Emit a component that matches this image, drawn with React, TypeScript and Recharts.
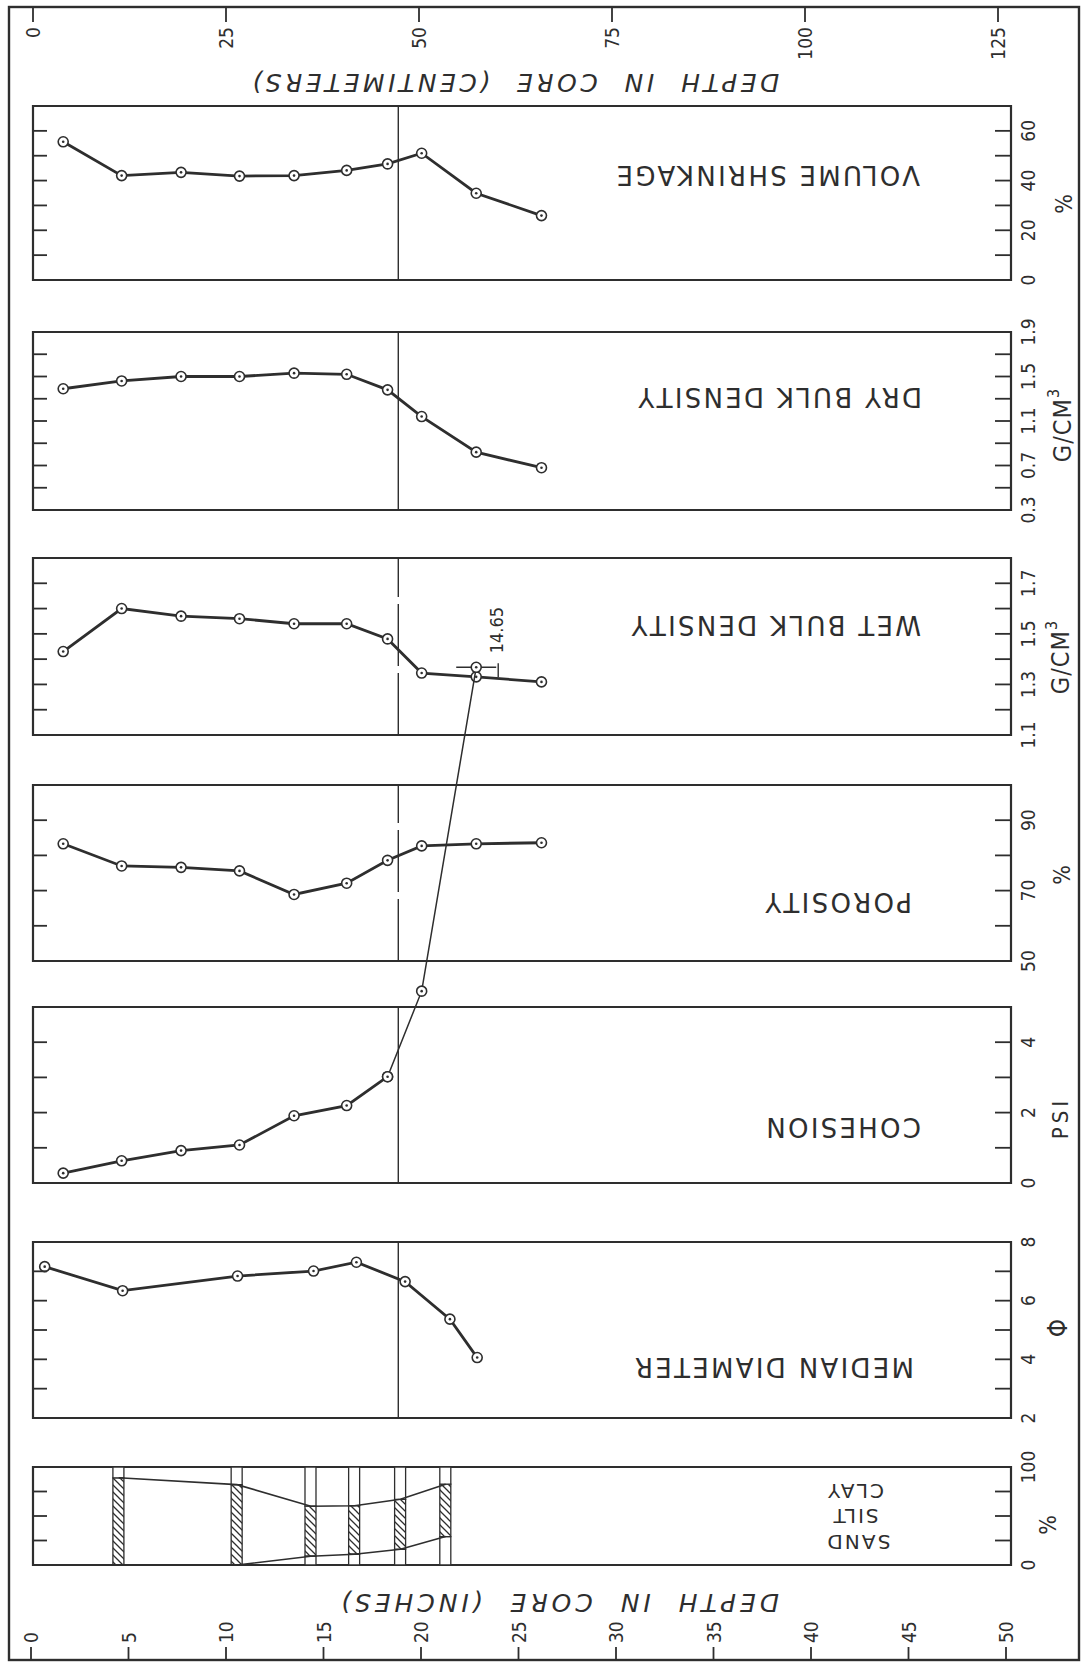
import React from 'react';
import { ComposedChart, LineChart, Line, Bar, XAxis, YAxis, ReferenceArea, ReferenceLine } from 'recharts';

// ---------------- DATA ----------------
// depth (inches) of the core samples
const SAMPLE_DEPTH_IN = [1.55, 4.55, 7.6, 10.6, 13.4, 16.1, 18.2, 19.95, 22.75, 26.1];
const VOLUME_SHRINKAGE_PCT = [55.6, 42.0, 43.3, 41.8, 42.0, 44.1, 46.7, 51.0, 34.9, 25.9];
const DRY_BULK_DENSITY = [1.39, 1.46, 1.5, 1.5, 1.53, 1.52, 1.38, 1.14, 0.82, 0.68];
const WET_BULK_DENSITY = [1.43, 1.6, 1.57, 1.56, 1.54, 1.54, 1.48, 1.345, 1.33, 1.31];
const POROSITY_PCT = [83.3, 77.0, 76.6, 75.6, 68.9, 72.1, 78.6, 82.7, 83.3, 83.6];
const COHESION_PSI = [0.28, 0.63, 0.92, 1.08, 1.91, 2.2, 3.02, 5.45, 14.65];
const COHESION_OFFSCALE_FROM = 6; // index where the thin off-scale continuation starts

const MEDIAN_DEPTH_IN = [0.6, 4.6, 10.5, 14.4, 16.6, 19.1, 21.4, 22.8];
const MEDIAN_DIAMETER_PHI = [7.16, 6.34, 6.84, 7.01, 7.31, 6.65, 5.37, 4.06];

const GRAIN_DEPTH_IN = [4.4, 10.47, 14.26, 16.5, 18.86, 21.18];
const SAND_PCT = [0, 0, 9, 11, 16, 29];
const SILT_PCT = [89, 82, 51, 49.5, 51, 53.5];

const CORE_BREAK_DEPTH_IN = 18.75;

const INCH_TICKS = [0, 5, 10, 15, 20, 25, 30, 35, 40, 45, 50];
const CM_TICKS = [0, 25, 50, 75, 100, 125];

// ---------------- LAYOUT / STYLE ----------------
const W = 1081;
const H = 1662;
const X_LEFT = 33;
const X_RIGHT = 1011;
const DEPTH_MAX = 50.2;
const WL = 12;
const WR = 60;
const INK = '#2e2e2e';
const NUM_FONT = "'DejaVu Sans Condensed', 'DejaVu Sans', sans-serif";
const TITLE_FONT = "'DejaVu Sans', sans-serif";

type PanelSpec = {
  top: number;
  bottom: number;
  domain: [number, number];
  chartTop?: number;
  chartDomain?: [number, number];
  marks: number[];
  labels: number[];
  dashed?: boolean;
  breakLine?: boolean;
};

const COHESION_PX_PER_PSI = 176 / 5;
const P_VOLUME: PanelSpec = { top: 106, bottom: 280, domain: [0, 70], marks: [10, 20, 30, 40, 50, 60], labels: [0, 20, 40, 60], breakLine: true };
const P_DRY: PanelSpec = { top: 332, bottom: 510, domain: [0.3, 1.9], marks: [0.5, 0.7, 0.9, 1.1, 1.3, 1.5, 1.7], labels: [0.3, 0.7, 1.1, 1.5, 1.9], breakLine: true };
const P_WET: PanelSpec = { top: 558, bottom: 735, domain: [1.1, 1.8], marks: [1.2, 1.3, 1.4, 1.5, 1.6, 1.7], labels: [1.1, 1.3, 1.5, 1.7], dashed: true, breakLine: true };
const P_POROSITY: PanelSpec = { top: 785, bottom: 961, domain: [50, 100], marks: [60, 70, 80, 90], labels: [50, 70, 90], dashed: true, breakLine: true };
const P_COHESION: PanelSpec = { top: 1007, bottom: 1183, domain: [0, 5], chartTop: 1183 - 19 * COHESION_PX_PER_PSI, chartDomain: [0, 19], marks: [1, 2, 3, 4], labels: [0, 2, 4], breakLine: true };
const P_MEDIAN: PanelSpec = { top: 1242, bottom: 1418, domain: [2, 8], marks: [3, 4, 5, 6, 7], labels: [2, 4, 6, 8], breakLine: true };
const P_GRAIN: PanelSpec = { top: 1467, bottom: 1565, domain: [0, 100], marks: [25, 50, 75], labels: [0, 100] };

// ---------------- DERIVED TABLES ----------------
const volumeData = SAMPLE_DEPTH_IN.map((depth, i) => ({ depth, v: VOLUME_SHRINKAGE_PCT[i] }));
const dryData = SAMPLE_DEPTH_IN.map((depth, i) => ({ depth, v: DRY_BULK_DENSITY[i] }));
const wetData = SAMPLE_DEPTH_IN.map((depth, i) => ({ depth, v: WET_BULK_DENSITY[i] }));
const porosityData = SAMPLE_DEPTH_IN.map((depth, i) => ({ depth, v: POROSITY_PCT[i] }));
const cohesionData = COHESION_PSI.map((v, i) => ({
  depth: SAMPLE_DEPTH_IN[i],
  main: i <= COHESION_OFFSCALE_FROM ? v : null,
  ext: i >= COHESION_OFFSCALE_FROM ? v : null,
}));
const medianData = MEDIAN_DEPTH_IN.map((depth, i) => ({ depth, v: MEDIAN_DIAMETER_PHI[i] }));
const grainData = GRAIN_DEPTH_IN.map((depth, i) => ({
  depth,
  sand: SAND_PCT[i],
  silt: SILT_PCT[i],
  clay: 100 - SAND_PCT[i] - SILT_PCT[i],
  sandSilt: SAND_PCT[i] + SILT_PCT[i],
}));

// ---------------- MARKS ----------------
function RingDot(props: any) {
  const { cx, cy } = props;
  if (cx == null || cy == null || Number.isNaN(cy)) return <g />;
  return (
    <g>
      <circle cx={cx} cy={cy} r={5} fill="#fff" stroke={INK} strokeWidth={1.6} />
      <circle cx={cx} cy={cy} r={1.3} fill={INK} />
    </g>
  );
}

function CohesionExtDot(props: any) {
  const { cx, cy, index, payload } = props;
  if (cx == null || cy == null || Number.isNaN(cy)) return <g />;
  if (index !== COHESION_PSI.length - 1) return <RingDot cx={cx} cy={cy} />;
  const tx = cx + 20;
  const ty = cy - 14;
  return (
    <g>
      <line x1={cx - 20} x2={cx + 20} y1={cy} y2={cy} stroke={INK} strokeWidth={1.6} />
      <line x1={cx + 22} x2={cx + 22} y1={cy - 4} y2={cy + 10} stroke={INK} strokeWidth={1.4} />
      <RingDot cx={cx} cy={cy} />
      <text x={tx} y={ty} transform={`rotate(-90 ${tx} ${ty})`} textAnchor="start" dominantBaseline="central"
        fontFamily={NUM_FONT} fontSize={18} fill={INK}>{String(payload.ext)}</text>
    </g>
  );
}

function LeftMark(props: any) {
  const { x, y } = props;
  return <line x1={x} x2={x + 14} y1={y} y2={y} stroke={INK} strokeWidth={1.8} />;
}

function RightMark(props: any) {
  const { x, y, payload, spec } = props;
  const v = payload.value;
  const hasMark = spec.marks.includes(v);
  const hasLabel = spec.labels.includes(v);
  const lx = x + 17;
  return (
    <g>
      {hasMark && <line x1={x - 16} x2={x} y1={y} y2={y} stroke={INK} strokeWidth={1.8} />}
      {hasLabel && (
        <text x={lx} y={y} transform={`rotate(-90 ${lx} ${y})`} textAnchor="middle" dominantBaseline="central"
          fontFamily={NUM_FONT} fontSize={19} fill={INK}>{String(v)}</text>
      )}
    </g>
  );
}

function Panel({ spec, data, children }: { spec: PanelSpec; data: any[]; children?: React.ReactNode }) {
  const dom = spec.chartDomain ?? spec.domain;
  const top = spec.chartTop ?? spec.top;
  const rightTicks = Array.from(new Set([...spec.marks, ...spec.labels])).sort((a, b) => a - b);
  return (
    <div style={{ position: 'absolute', left: 0, top: 0 }}>
      <ComposedChart width={W} height={H} data={data}
        margin={{ top, bottom: H - spec.bottom, left: X_LEFT - WL, right: W - X_RIGHT - WR }}>
        <XAxis type="number" dataKey="depth" domain={[0, DEPTH_MAX]} hide allowDataOverflow />
        <YAxis yAxisId="l" orientation="left" type="number" width={WL} domain={dom} allowDataOverflow
          ticks={spec.marks} interval={0} axisLine={false} tickLine={false} tickSize={0} tickMargin={0}
          tick={(t: any) => <LeftMark {...t} />} />
        <YAxis yAxisId="r" orientation="right" type="number" width={WR} domain={dom} allowDataOverflow
          ticks={rightTicks} interval={0} axisLine={false} tickLine={false} tickSize={0} tickMargin={0}
          tick={(t: any) => <RightMark {...t} spec={spec} />} />
        <ReferenceArea yAxisId="r" x1={0} x2={DEPTH_MAX} y1={spec.domain[0]} y2={spec.domain[1]}
          fill="none" fillOpacity={0} stroke={INK} strokeWidth={2.2} />
        {spec.breakLine && (
          <ReferenceLine yAxisId="r"
            segment={[{ x: CORE_BREAK_DEPTH_IN, y: spec.domain[0] }, { x: CORE_BREAK_DEPTH_IN, y: spec.domain[1] }]}
            stroke={INK} strokeWidth={1.4} strokeDasharray={spec.dashed ? '62 7' : undefined} />
        )}
        {children}
      </ComposedChart>
    </div>
  );
}

const lineProps = {
  yAxisId: 'r',
  stroke: INK,
  strokeWidth: 2.8,
  isAnimationActive: false,
  dot: (d: any) => <RingDot key={`dot-${d.index}`} {...d} />,
  activeDot: false,
} as any;

function Flip({ x, y, children, anchor = 'middle', size = 26, italic = false, spacing = 2.3, wordSpacing = 0 }: any) {
  return (
    <text x={x} y={y} transform={`rotate(180 ${x} ${y})`} textAnchor={anchor} dominantBaseline="central"
      fontFamily={TITLE_FONT} fontSize={size} fontStyle={italic ? 'italic' : 'normal'}
      letterSpacing={spacing} wordSpacing={wordSpacing} fill={INK}>{children}</text>
  );
}

function Up({ x, y, children, size = 20, spacing = 0 }: any) {
  return (
    <text x={x} y={y} transform={`rotate(-90 ${x} ${y})`} textAnchor="middle" dominantBaseline="central"
      fontFamily={NUM_FONT} fontSize={size} letterSpacing={spacing} fill={INK}>{children}</text>
  );
}

function DensityUnit({ x, y }: any) {
  return (
    <text x={x} y={y} transform={`rotate(-90 ${x} ${y})`} textAnchor="middle" dominantBaseline="central"
      fontFamily={NUM_FONT} fontSize={25} letterSpacing={1} fill={INK}>
      G/CM<tspan fontSize={16} dy={-9}>3</tspan>
    </text>
  );
}

function CmTick(props: any) {
  const { x, payload } = props;
  const ty = 27;
  return (
    <g>
      <line x1={x} x2={x} y1={7} y2={22} stroke={INK} strokeWidth={1.8} />
      <text x={x} y={ty} transform={`rotate(-90 ${x} ${ty})`} textAnchor="end" dominantBaseline="central"
        fontFamily={NUM_FONT} fontSize={19} fill={INK}>{String(payload.value)}</text>
    </g>
  );
}

function InchTick(props: any) {
  const { x, payload } = props;
  const ty = 1643;
  return (
    <g>
      <line x1={x} x2={x} y1={1647} y2={1660} stroke={INK} strokeWidth={1.8} />
      <text x={x} y={ty} transform={`rotate(-90 ${x} ${ty})`} textAnchor="start" dominantBaseline="central"
        fontFamily={NUM_FONT} fontSize={19} fill={INK}>{String(payload.value)}</text>
    </g>
  );
}

export default function App() {
  return (
    <div style={{ position: 'absolute', left: 0, top: 0, width: W, height: H, background: '#fff', overflow: 'hidden' }}>
      <svg width={W} height={H} style={{ position: 'absolute', left: 0, top: 0 }}>
        <defs>
          <pattern id="hatch" width="7" height="7" patternUnits="userSpaceOnUse">
            <path d="M-1,-1 L8,8 M-1,6 L1,8 M6,-1 L8,1" stroke={INK} strokeWidth={1.3} />
          </pattern>
        </defs>
        <rect x={9} y={7} width={1070} height={1653} fill="none" stroke={INK} strokeWidth={2.4} />

        <Flip x={514} y={82} size={25} italic spacing={3.5} wordSpacing={12}>DEPTH IN CORE (CENTIMETERS)</Flip>
        <Flip x={558} y={1602} size={25} italic spacing={4} wordSpacing={12}>DEPTH IN CORE (INCHES)</Flip>

        <Flip x={920} y={175} anchor="start">VOLUME SHRINKAGE</Flip>
        <Flip x={922} y={397} anchor="start">DRY BULK DENSITY</Flip>
        <Flip x={921} y={625} anchor="start">WET BULK DENSITY</Flip>
        <Flip x={912} y={902} anchor="start">POROSITY</Flip>
        <Flip x={921} y={1127} anchor="start">COHESION</Flip>
        <Flip x={914} y={1367} anchor="start">MEDIAN DIAMETER</Flip>
        <Flip x={855} y={1491} size={20} spacing={2}>CLAY</Flip>
        <Flip x={855} y={1516} size={20} spacing={2}>SILT</Flip>
        <Flip x={858} y={1542} size={20} spacing={2}>SAND</Flip>

        <Up x={1064} y={204} size={23}>%</Up>
        <DensityUnit x={1062} y={425} />
        <DensityUnit x={1060} y={657} />
        <Up x={1062} y={875} size={23}>%</Up>
        <Up x={1060} y={1118} size={22} spacing={4}>PSI</Up>
        <Up x={1058} y={1328} size={26}>Φ</Up>
        <Up x={1048} y={1525} size={23}>%</Up>
      </svg>

      {/* top axis: centimetres */}
      <div style={{ position: 'absolute', left: 0, top: 0 }}>
        <LineChart width={W} height={H} data={CM_TICKS.map((cm) => ({ cm }))}
          margin={{ top: 8, bottom: H - 60, left: 33, right: W - 998 }}>
          <XAxis type="number" dataKey="cm" domain={[0, 125]} ticks={CM_TICKS} interval={0} orientation="top"
            height={1} axisLine={false} tickLine={false} tickSize={0} tickMargin={0} tick={(t: any) => <CmTick {...t} />} />
          <YAxis hide />
        </LineChart>
      </div>

      {/* bottom axis: inches */}
      <div style={{ position: 'absolute', left: 0, top: 0 }}>
        <LineChart width={W} height={H} data={INCH_TICKS.map((inch) => ({ inch }))}
          margin={{ top: 1600, bottom: 20, left: 31, right: W - 1006 }}>
          <XAxis type="number" dataKey="inch" domain={[0, 50]} ticks={INCH_TICKS} interval={0}
            height={1} axisLine={false} tickLine={false} tickSize={0} tickMargin={0} tick={(t: any) => <InchTick {...t} />} />
          <YAxis hide />
        </LineChart>
      </div>

      <Panel spec={P_VOLUME} data={volumeData}>
        <Line {...lineProps} dataKey="v" />
      </Panel>
      <Panel spec={P_DRY} data={dryData}>
        <Line {...lineProps} dataKey="v" />
      </Panel>
      <Panel spec={P_WET} data={wetData}>
        <Line {...lineProps} dataKey="v" />
      </Panel>
      <Panel spec={P_POROSITY} data={porosityData}>
        <Line {...lineProps} dataKey="v" />
      </Panel>
      <Panel spec={P_MEDIAN} data={medianData}>
        <Line {...lineProps} dataKey="v" />
      </Panel>
      <Panel spec={P_GRAIN} data={grainData}>
        <Line yAxisId="r" dataKey="sand" stroke={INK} strokeWidth={1.6} dot={false} activeDot={false} isAnimationActive={false} />
        <Line yAxisId="r" dataKey="sandSilt" stroke={INK} strokeWidth={1.6} dot={false} activeDot={false} isAnimationActive={false} />
        <Bar yAxisId="r" dataKey="sand" stackId="g" barSize={11} fill="#fff" stroke={INK} strokeWidth={1.3} isAnimationActive={false} />
        <Bar yAxisId="r" dataKey="silt" stackId="g" barSize={11} fill="url(#hatch)" stroke={INK} strokeWidth={1.3} isAnimationActive={false} />
        <Bar yAxisId="r" dataKey="clay" stackId="g" barSize={11} fill="#fff" stroke={INK} strokeWidth={1.3} isAnimationActive={false} />
      </Panel>
      <Panel spec={P_COHESION} data={cohesionData}>
        <Line {...lineProps} dataKey="main" />
        <Line yAxisId="r" dataKey="ext" stroke={INK} strokeWidth={1.5} isAnimationActive={false} activeDot={false}
          dot={(d: any) => <CohesionExtDot key={`cx-${d.index}`} {...d} />} />
      </Panel>
    </div>
  );
}
